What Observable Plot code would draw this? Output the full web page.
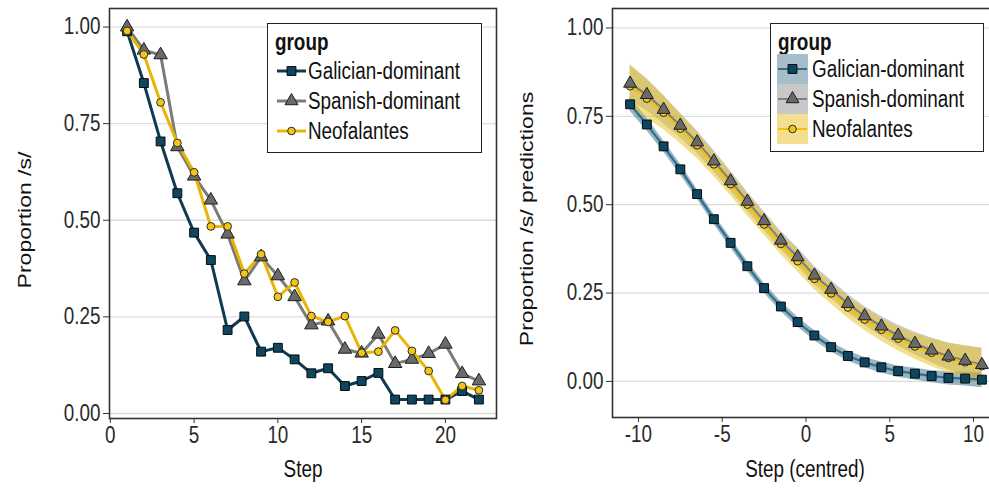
<!DOCTYPE html>
<html>
<head>
<meta charset="utf-8">
<script src="https://cdn.jsdelivr.net/npm/d3@7"></script>
<script src="https://cdn.jsdelivr.net/npm/@observablehq/plot@0.6"></script>
<style>
html, body { margin: 0; padding: 0; background: #fff; overflow: hidden; }
#wrap { position: relative; width: 989px; height: 488px; overflow: hidden;
  font-family: "Liberation Sans", Arial, sans-serif; color: #111; }
.panel { position: absolute; top: 0; width: 500px; height: 488px; }
.panel svg { max-width: none !important; }
.ttl { position: absolute; font-size: 23px; white-space: nowrap; line-height: 1; }
.xt { transform: translate(-50%, -50%) scaleX(0.82); }
.yt { transform: translate(-50%, -50%) rotate(-90deg) scaleY(0.82); }
.legend { position: absolute; border: 1.5px solid #222; background: #fff; box-sizing: border-box; }
.legend .head { position: absolute; left: 7px; top: 3px; font-size: 23px; font-weight: bold; line-height: 30px;
  transform: scaleX(0.82); transform-origin: left center; }
.legend .row { position: absolute; left: 0; height: 30px; width: 100%; }
.legend .row svg { position: absolute; top: 0; }
.legend .row span { position: absolute; font-size: 23px; line-height: 30px; top: 0; white-space: nowrap;
  transform: scaleX(0.82); transform-origin: left center; }
</style>
</head>
<body>
<div id="wrap">
  <div class="panel" id="left" style="left:0px"></div>
  <div class="panel" id="right" style="left:500px"></div>
  <div class="ttl yt" style="left:25px; top:220px">Proportion /s/</div>
  <div class="ttl yt" style="left:527px; top:219px">Proportion /s/ predictions</div>
  <div class="ttl xt" style="left:303px; top:469px">Step</div>
  <div class="ttl xt" style="left:805px; top:469px">Step (centred)</div>
  <div class="legend" id="legL" style="left:267px; top:23px; width:215px; height:130px"></div>
  <div class="legend" id="legR" style="left:770px; top:23px; width:214px; height:129px"></div>
</div>
<script>
// ---------- data ----------
const groups = ["Galician-dominant", "Spanish-dominant", "Neofalantes"];

// observed proportions (left panel)
const steps = [1, 2, 3, 4, 5, 6, 7, 8, 9, 10, 11, 12, 13, 14, 15, 16, 17, 18, 19, 20, 21, 22];
const galObs = [0.989, 0.855, 0.704, 0.570, 0.468, 0.397, 0.216, 0.251, 0.160, 0.170, 0.140, 0.104, 0.117, 0.071, 0.084, 0.105, 0.036, 0.036, 0.036, 0.036, 0.058, 0.036];
const spaObs = [1.000, 0.940, 0.928, 0.690, 0.614, 0.552, 0.464, 0.343, 0.405, 0.356, 0.302, 0.229, 0.239, 0.166, 0.156, 0.205, 0.129, 0.140, 0.155, 0.179, 0.103, 0.084];
const neoObs = [0.990, 0.929, 0.805, 0.700, 0.624, 0.484, 0.484, 0.362, 0.412, 0.302, 0.339, 0.252, 0.237, 0.252, 0.157, 0.160, 0.215, 0.162, 0.110, 0.035, 0.071, 0.060];

// model predictions (right panel)
const stepsCentred = [-10.5, -9.5, -8.5, -7.5, -6.5, -5.5, -4.5, -3.5, -2.5, -1.5, -0.5, 0.5, 1.5, 2.5, 3.5, 4.5, 5.5, 6.5, 7.5, 8.5, 9.5, 10.5];
const galPred = [0.784, 0.727, 0.665, 0.600, 0.530, 0.459, 0.392, 0.326, 0.264, 0.212, 0.168, 0.130, 0.097, 0.072, 0.054, 0.040, 0.029, 0.022, 0.015, 0.010, 0.008, 0.005];
const galLo   = [0.764, 0.709, 0.649, 0.585, 0.516, 0.445, 0.378, 0.312, 0.250, 0.198, 0.154, 0.116, 0.083, 0.058, 0.039, 0.024, 0.012, 0.004, -0.004, -0.010, -0.013, -0.018];
const galHi   = [0.804, 0.745, 0.681, 0.615, 0.544, 0.473, 0.406, 0.340, 0.278, 0.226, 0.182, 0.144, 0.111, 0.086, 0.068, 0.055, 0.044, 0.037, 0.031, 0.027, 0.025, 0.024];
const spaPred = [0.843, 0.811, 0.769, 0.724, 0.677, 0.623, 0.567, 0.509, 0.454, 0.399, 0.352, 0.300, 0.260, 0.220, 0.185, 0.156, 0.130, 0.107, 0.088, 0.071, 0.059, 0.047];
const spaLo   = [0.793, 0.766, 0.729, 0.689, 0.645, 0.593, 0.539, 0.482, 0.428, 0.373, 0.326, 0.274, 0.234, 0.194, 0.158, 0.128, 0.100, 0.075, 0.053, 0.033, 0.017, 0.000];
const spaHi   = [0.893, 0.856, 0.809, 0.759, 0.709, 0.653, 0.595, 0.536, 0.480, 0.425, 0.378, 0.326, 0.286, 0.246, 0.212, 0.184, 0.160, 0.139, 0.123, 0.109, 0.101, 0.094];
const neoPred = [0.835, 0.800, 0.760, 0.715, 0.668, 0.614, 0.558, 0.500, 0.444, 0.389, 0.340, 0.290, 0.249, 0.209, 0.175, 0.146, 0.121, 0.099, 0.081, 0.066, 0.054, 0.043];
const neoLo   = [0.773, 0.745, 0.712, 0.673, 0.631, 0.580, 0.526, 0.469, 0.414, 0.359, 0.310, 0.260, 0.219, 0.179, 0.144, 0.114, 0.087, 0.063, 0.042, 0.024, 0.008, -0.007];
const neoHi   = [0.897, 0.855, 0.808, 0.757, 0.705, 0.648, 0.590, 0.531, 0.474, 0.419, 0.370, 0.320, 0.279, 0.239, 0.206, 0.178, 0.155, 0.135, 0.120, 0.108, 0.100, 0.093];

const yTicks = [0, 0.25, 0.5, 0.75, 1];
const xTicksLeft = [0, 5, 10, 15, 20];
const xTicksRight = [-10, -5, 0, 5, 10];

// ---------- styles ----------
const symbols = ["square", "triangle", "circle"];
const pointFill = ["#0d4660", "#6a6a6a", "#f4c518"];
const pointStroke = ["#0a0a0a", "#1e1e1e", "#2a2a2a"];
const obsLine = ["#0f3b52", "#7b7b7b", "#e8b500"];
const predLine = ["#2f6e8c", "#808080", "#f2c200"];
const ribbonFill = ["#2f6d8c", "#7f7f7f", "#e8c21c"];
const ribbonOpacity = [0.5, 0.4, 0.5];
const legendKeyBg = ["#a7bdc9", "#c8c8c8", "#f3df8f"];

const FONT = '"Liberation Sans", Arial, sans-serif';

// ---------- tables ----------
const obsSeries = [galObs, spaObs, neoObs].map(vals => steps.map((s, i) => ({step: s, value: vals[i]})));
const predSeries = [[galPred, galLo, galHi], [spaPred, spaLo, spaHi], [neoPred, neoLo, neoHi]]
  .map(([p, lo, hi]) => stepsCentred.map((s, i) => ({step: s, value: p[i], lo: lo[i], hi: hi[i]})));

const commonStyle = {fontFamily: FONT, fontSize: "23px", color: "#2a2a2a", background: "transparent", overflow: "visible"};
const hyphen = d => String(d);

// ---------- left panel ----------
const left = Plot.plot({
  width: 500, height: 488,
  marginLeft: 109, marginRight: 4, marginTop: 8, marginBottom: 70,
  x: {domain: [-0.05, 23.05]},
  y: {domain: [-0.013, 1.048]},
  style: commonStyle,
  marks: [
    Plot.gridY(yTicks, {stroke: "#dcdcdc", strokeOpacity: 1, strokeWidth: 1.3}),
    ...obsSeries.map((d, g) => Plot.line(d, {x: "step", y: "value", stroke: obsLine[g], strokeWidth: 3})),
    ...obsSeries.map((d, g) => Plot.dot(d, {x: "step", y: "value", symbol: symbols[g],
      r: g === 0 ? 5 : g === 1 ? 5 : 3.9, fill: pointFill[g], stroke: pointStroke[g], strokeWidth: 1})),
    Plot.frame({stroke: "#333", strokeWidth: 1.6}),
    Plot.axisY(yTicks, {tickFormat: d3.format(".2f"), tickSize: 6, tickPadding: 3, label: null, stroke: "#333"}),
    Plot.axisX(xTicksLeft, {tickFormat: hyphen, tickSize: 5, tickPadding: 3, label: null, stroke: "#333"})
  ]
});
document.getElementById("left").appendChild(left);

// ---------- right panel ----------
const right = Plot.plot({
  width: 500, height: 488,
  marginLeft: 112, marginRight: 1, marginTop: 8, marginBottom: 71,
  x: {domain: [-11.55, 11.55]},
  y: {domain: [-0.102, 1.055]},
  style: commonStyle,
  marks: [
    Plot.gridY(yTicks, {stroke: "#dcdcdc", strokeOpacity: 1, strokeWidth: 1.3}),
    ...predSeries.map((d, g) => Plot.areaY(d, {x: "step", y1: "lo", y2: "hi", fill: ribbonFill[g], fillOpacity: ribbonOpacity[g]})),
    ...predSeries.map((d, g) => Plot.line(d, {x: "step", y: "value", stroke: predLine[g], strokeWidth: 2.2})),
    ...[0, 2, 1].map(g => Plot.dot(predSeries[g], {x: "step", y: "value", symbol: symbols[g],
      r: g === 0 ? 5 : g === 1 ? 4.8 : 3.8, fill: pointFill[g], stroke: pointStroke[g], strokeWidth: 1})),
    Plot.frame({stroke: "#333", strokeWidth: 1.6}),
    Plot.axisY(yTicks, {tickFormat: d3.format(".2f"), tickSize: 6, tickPadding: 3, label: null, stroke: "#333"}),
    Plot.axisX(xTicksRight, {tickFormat: hyphen, tickSize: 5, tickPadding: 3, label: null, stroke: "#333"})
  ]
});
document.getElementById("right").appendChild(right);

// condense tick labels horizontally about their anchor (the reference figure is horizontally squeezed);
// each label is placed by a translate() in its transform attribute, so append a scale after it
for (const svg of [left, right]) {
  svg.querySelectorAll('g[aria-label$="tick label"] text').forEach(t => {
    const tr = t.getAttribute("transform");
    if (tr) t.setAttribute("transform", tr + " scale(0.82,1)");
  });
}

// ---------- legends ----------
function symbolPath(g, r) {
  const type = [d3.symbolSquare, d3.symbolTriangle, d3.symbolCircle][g];
  return d3.symbol(type, r * r * Math.PI)();
}
function buildLegend(id, withBg, lineCols, rowTops, keyLeft, textLeft) {
  const box = document.getElementById(id);
  const head = document.createElement("div");
  head.className = "head"; head.textContent = "group";
  box.appendChild(head);
  groups.forEach((name, g) => {
    const row = document.createElement("div");
    row.className = "row"; row.style.top = rowTops[g] + "px";
    const r = g === 0 ? 5 : g === 1 ? 4.8 : 3.8;
    row.innerHTML =
      `<svg width="31" height="30" style="left:${keyLeft}px">` +
      (withBg ? `<rect x="0" y="0" width="31" height="30" fill="${legendKeyBg[g]}"/>` : "") +
      `<line x1="1" x2="30" y1="15" y2="15" stroke="${lineCols[g]}" stroke-width="${withBg ? 2 : 3}"/>` +
      `<path transform="translate(15.5,15)" d="${symbolPath(g, r)}" fill="${pointFill[g]}" stroke="${pointStroke[g]}" stroke-width="1"/>` +
      `</svg><span style="left:${textLeft}px">${name}</span>`;
    box.appendChild(row);
  });
}
buildLegend("legL", false, obsLine, [32, 62, 92], 8, 40);
buildLegend("legR", true, predLine, [30, 60, 90], 6, 41);
</script>
</body>
</html>
